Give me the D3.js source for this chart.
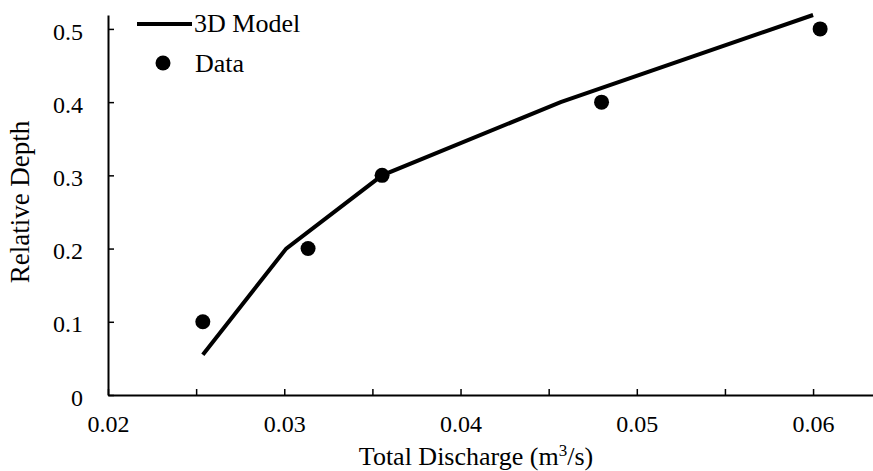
<!DOCTYPE html>
<html>
<head>
<meta charset="utf-8">
<script src="https://cdn.jsdelivr.net/npm/d3@7"></script>
<style>
  body { margin: 0; background: #fff; }
  svg text { font-family: "Liberation Serif", "Times New Roman", serif; fill: #000; }
</style>
</head>
<body>
<script>
// model curve
var modelQ = [0.02538, 0.02685, 0.03011, 0.03555, 0.04568, 0.06000];
var modelDepth = [0.055, 0.100, 0.200, 0.300, 0.400, 0.519];

// measured data
var dataQ = [0.02538, 0.03135, 0.03555, 0.04800, 0.06040];
var dataDepth = [0.1, 0.2, 0.3, 0.4, 0.5];

var xTicks = [0.02, 0.03, 0.04, 0.05, 0.06];
var xMinorTicks = [0.025, 0.035, 0.045, 0.055];
var yTicks = [0, 0.1, 0.2, 0.3, 0.4, 0.5];

var w = 873, h = 471;
var serif = "'Liberation Serif', 'Times New Roman', serif";

var svg = d3.select("body")
            .append("svg")
            .attr("width", w)
            .attr("height", h);

var x = d3.scaleLinear()
          .domain([0.02, 0.0634])
          .range([108, 873]);

var y = d3.scaleLinear()
          .domain([0, 0.519])
          .range([395, 15]);

// x axis, ticks pointing inward
var xAxis = svg.append("g")
               .attr("transform", "translate(0," + y(0) + ")")
               .call(d3.axisBottom(x)
                       .tickValues(xTicks)
                       .tickSizeInner(-6)
                       .tickSizeOuter(0)
                       .tickPadding(20)
                       .tickFormat(d3.format(".2f")));

svg.append("g")
   .attr("transform", "translate(0," + y(0) + ")")
   .call(d3.axisBottom(x)
           .tickValues(xMinorTicks)
           .tickSizeInner(-6)
           .tickSizeOuter(0)
           .tickFormat(""))
   .select(".domain").remove();

var yAxis = svg.append("g")
               .attr("transform", "translate(" + x(0.02) + ",0)")
               .call(d3.axisLeft(y)
                       .tickValues(yTicks)
                       .tickSizeInner(-6)
                       .tickSizeOuter(0)
                       .tickPadding(25)
                       .tickFormat(function(d) { return d === 0 ? "0" : d3.format(".1f")(d); }));

xAxis.attr("font-family", serif).attr("font-size", 24);
yAxis.attr("font-family", serif).attr("font-size", 24);
yAxis.selectAll(".tick text").attr("dy", "0.42em");

svg.selectAll(".domain").attr("stroke", "#000").attr("stroke-width", 2);
svg.selectAll(".tick line").attr("stroke", "#000").attr("stroke-width", 1.5);
svg.selectAll(".tick text").attr("fill", "#000");

// model line
var line = d3.line()
             .x(function(d) { return x(d[0]); })
             .y(function(d) { return y(d[1]); });

svg.append("path")
   .datum(d3.zip(modelQ, modelDepth))
   .attr("d", line)
   .attr("fill", "none")
   .attr("stroke", "#000")
   .attr("stroke-width", 4);

// data points
svg.selectAll("circle.data")
   .data(d3.zip(dataQ, dataDepth))
   .enter()
   .append("circle")
   .attr("class", "data")
   .attr("cx", function(d) { return x(d[0]); })
   .attr("cy", function(d) { return y(d[1]); })
   .attr("r", 7.5)
   .attr("fill", "#000");

// axis titles
svg.append("text")
   .attr("x", 476)
   .attr("y", 465)
   .attr("text-anchor", "middle")
   .attr("font-family", serif)
   .attr("font-size", 26)
   .html("Total Discharge (m<tspan dy='-9' font-size='17'>3</tspan><tspan dy='9'>/s)</tspan>");

svg.append("text")
   .attr("transform", "translate(29,202) rotate(-90)")
   .attr("text-anchor", "middle")
   .attr("font-family", serif)
   .attr("font-size", 27)
   .text("Relative Depth");

// legend
svg.append("line")
   .attr("x1", 137).attr("x2", 192)
   .attr("y1", 24).attr("y2", 24)
   .attr("stroke", "#000")
   .attr("stroke-width", 4);

svg.append("text")
   .attr("x", 194)
   .attr("y", 32)
   .attr("font-family", serif)
   .attr("font-size", 26)
   .text("3D Model");

svg.append("circle")
   .attr("cx", 163)
   .attr("cy", 63)
   .attr("r", 7.5)
   .attr("fill", "#000");

svg.append("text")
   .attr("x", 195)
   .attr("y", 72)
   .attr("font-family", serif)
   .attr("font-size", 26)
   .text("Data");
</script>
</body>
</html>
